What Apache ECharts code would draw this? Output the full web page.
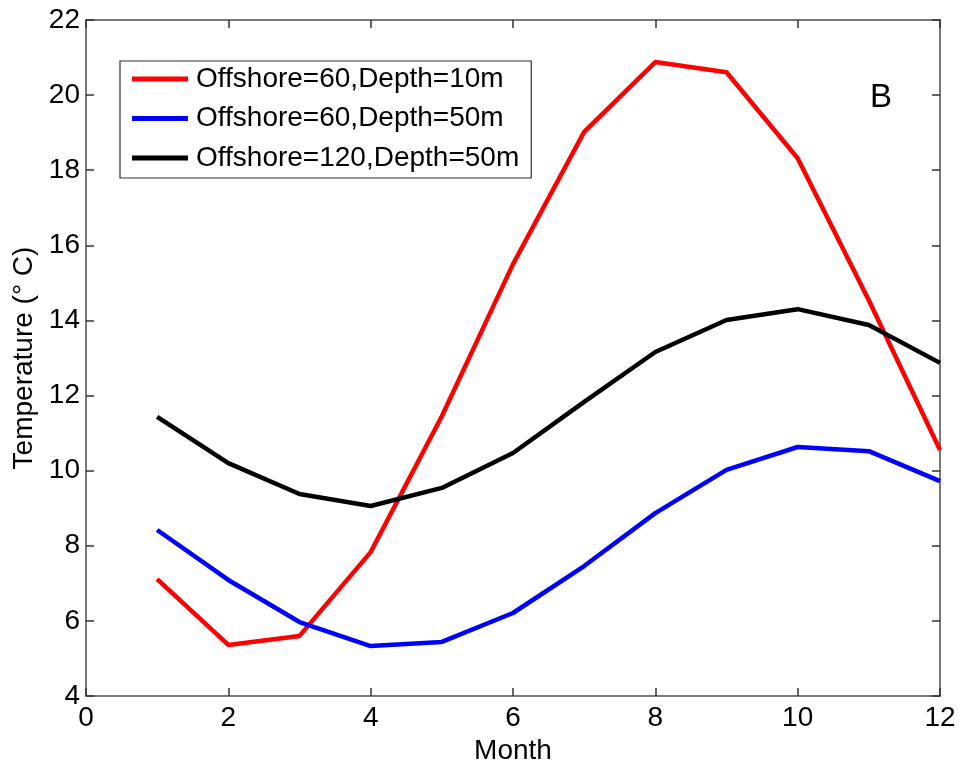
<!DOCTYPE html>
<html>
<head>
<meta charset="utf-8">
<script src="https://cdn.jsdelivr.net/npm/echarts@6/dist/echarts.min.js"></script>
<style>
html,body{margin:0;padding:0;background:#fff;}
#chart{width:961px;height:771px;}
</style>
</head>
<body>
<div id="chart"></div>
<script>
const months = [1,2,3,4,5,6,7,8,9,10,11,12];
const seriesNames = ['Offshore=60,Depth=10m','Offshore=60,Depth=50m','Offshore=120,Depth=50m'];
const red60_10 = [7.11,5.36,5.60,7.83,11.45,15.50,19.02,20.88,20.61,18.32,14.54,10.55];
const blue60_50 = [8.42,7.09,5.97,5.33,5.44,6.21,7.46,8.87,10.02,10.63,10.52,9.72];
const black120_50 = [11.43,10.20,9.38,9.06,9.54,10.47,11.83,13.16,14.01,14.30,13.88,12.87];
const colors = ['#ff0000','#0000ff','#000000'];
const xTicks = {min:0,max:12,interval:2};
const yTicks = {min:4,max:22,interval:2};

const font = 'Liberation Sans, Arial, sans-serif';
const chart = echarts.init(document.getElementById('chart'));
const pair = arr => months.map((m,i)=>[m,arr[i]]);
const dataSets = [red60_10, blue60_50, black120_50];

const axisLineStyle = {color:'#4d4d4d', width:1.5};
const baseX = {
  type:'value', min:xTicks.min, max:xTicks.max, interval:xTicks.interval,
  splitLine:{show:false},
  axisLine:{show:true, onZero:false, lineStyle:axisLineStyle},
  axisTick:{show:true, inside:true, length:8, lineStyle:{color:'#333', width:1.5}}
};
const baseY = {
  type:'value', min:yTicks.min, max:yTicks.max, interval:yTicks.interval,
  splitLine:{show:false},
  axisLine:{show:true, onZero:false, lineStyle:axisLineStyle},
  axisTick:{show:true, inside:true, length:8, lineStyle:{color:'#333', width:1.5}}
};

chart.setOption({
  backgroundColor:'#fff',
  animation:false,
  grid:{left:86, right:21, top:20, bottom:75},
  xAxis:[
    Object.assign({}, baseX, {
      position:'bottom',
      name:'Month', nameLocation:'middle', nameGap:38,
      nameTextStyle:{color:'#000', fontSize:28, fontFamily:font},
      axisLabel:{color:'#000', fontSize:28, fontFamily:font, margin:8}
    }),
    Object.assign({}, baseX, {position:'top', axisLabel:{show:false}})
  ],
  yAxis:[
    Object.assign({}, baseY, {
      position:'left',
      name:'Temperature (° C)', nameLocation:'middle', nameGap:48,
      nameTextStyle:{color:'#000', fontSize:28, fontFamily:font},
      axisLabel:{color:'#000', fontSize:28, fontFamily:font, margin:6}
    }),
    Object.assign({}, baseY, {position:'right', axisLabel:{show:false}})
  ],
  legend:{
    orient:'vertical', left:120, top:61,
    data:seriesNames,
    icon:'rect', itemWidth:56, itemHeight:5, itemGap:11.5,
    padding:[4,12,6,12],
    borderColor:'#333', borderWidth:1.2, backgroundColor:'#fff',
    textStyle:{color:'#000', fontSize:28, fontFamily:font, padding:[0,0,0,3]}
  },
  graphic:[{
    type:'text', left:870, top:81,
    style:{text:'B', fontSize:33, fontFamily:font, fill:'#000'}
  }],
  series: seriesNames.map((n,i)=>({
    name:n, type:'line', xAxisIndex:0, yAxisIndex:0,
    data:pair(dataSets[i]),
    showSymbol:false, symbol:'none',
    lineStyle:{color:colors[i], width:4.5},
    itemStyle:{color:colors[i]}
  }))
});
</script>
</body>
</html>
